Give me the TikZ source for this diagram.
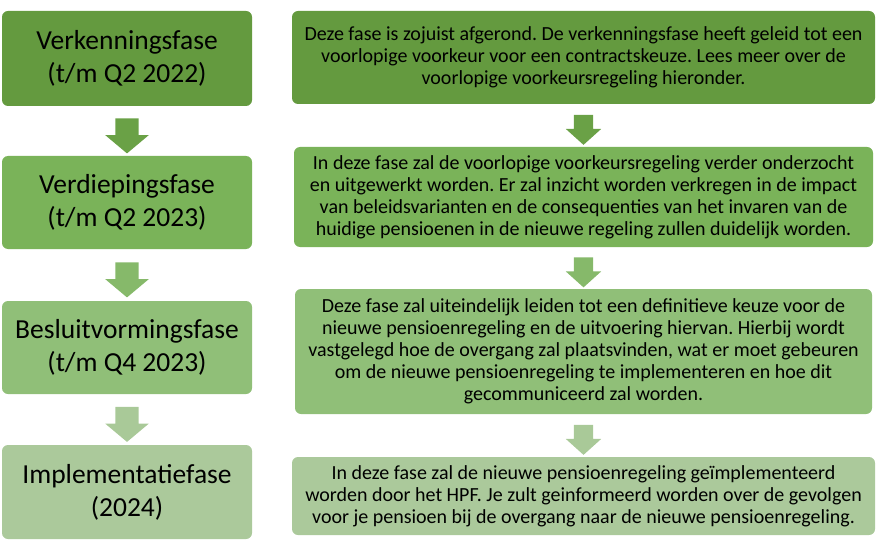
\documentclass[tikz,border=0pt]{standalone}
\usepackage{fontspec}
\setmainfont{Carlito}
\usetikzlibrary{shapes.arrows,calc}
\definecolor{fase1}{RGB}{100,154,63}
\definecolor{fase2}{RGB}{122,179,89}
\definecolor{fase3}{RGB}{144,191,120}
\definecolor{fase4}{RGB}{171,201,155}
\definecolor{pijl1}{RGB}{106,161,70}
\definecolor{pijl2}{RGB}{134,185,106}
\definecolor{pijl3}{RGB}{169,201,152}
\tikzset{
  fase/.style={rounded corners=6pt, inner sep=0pt, minimum width=250pt, align=center, font=\fontsize{27.5}{33}\selectfont},
  uitleg/.style={rounded corners=6pt, inner sep=0pt, align=center, font=\fontsize{20}{22}\selectfont},
  pijl/.style={single arrow, shape border rotate=270, inner sep=11.5pt, single arrow head extend=10pt, single arrow tip angle=100, minimum height=35pt},
  kleinpijl/.style={pijl, inner sep=9.5pt, single arrow head extend=8pt, single arrow tip angle=96, minimum height=30pt}
}
\frenchspacing
\begin{document}
\begin{tikzpicture}[x=1pt,y=-1pt]
  \useasboundingbox (0,0) rectangle (882,545);
  \node[fase, fill=fase1, minimum height=95pt] (l1) at (127,58.5) {Verkenningsfase\\(t/m Q2 2022)};
  \node[fase, fill=fase2, minimum height=93pt] (l2) at (127,202.5) {Verdiepingsfase\\(t/m Q2 2023)};
  \node[fase, fill=fase3, minimum height=93pt] (l3) at (127,347.5) {Besluitvormingsfase\\(t/m Q4 2023)};
  \node[fase, fill=fase4, minimum height=94pt] (l4) at (127,492) {Implementatiefase\\(2024)};
  \node[uitleg, fill=fase1, minimum width=583pt, minimum height=93pt] (r1) at (583.5,57.5)
    {Deze fase is zojuist afgerond. De verkenningsfase heeft geleid tot een\\voorlopige voorkeur voor een contractskeuze. Lees meer over de\\voorlopige voorkeursregeling hieronder.};
  \node[uitleg, fill=fase2, minimum width=579pt, minimum height=100pt] (r2) at (583.5,197)
    {In deze fase zal de voorlopige voorkeursregeling verder onderzocht\\en uitgewerkt worden. Er zal inzicht worden verkregen in de impact\\van beleidsvarianten en de consequenties van het invaren van de\\huidige pensioenen in de nieuwe regeling zullen duidelijk worden.};
  \node[uitleg, fill=fase3, minimum width=577pt, minimum height=125pt] (r3) at (583.5,351.5)
    {Deze fase zal uiteindelijk leiden tot een definitieve keuze voor de\\nieuwe pensioenregeling en de uitvoering hiervan. Hierbij wordt\\vastgelegd hoe de overgang zal plaatsvinden, wat er moet gebeuren\\om de nieuwe pensioenregeling te implementeren en hoe dit\\gecommuniceerd zal worden.};
  \node[uitleg, fill=fase4, minimum width=583pt, minimum height=78pt] (r4) at (583.5,496)
    {In deze fase zal de nieuwe pensioenregeling geïmplementeerd\\worden door het HPF. Je zult geinformeerd worden over de gevolgen\\voor je pensioen bij de overgang naar de nieuwe pensioenregeling.};
  \foreach \a/\b/\c in {1/2/pijl1, 2/3/pijl2, 3/4/pijl3} {
    \node[pijl, fill=\c] (pl\a) at ($(l\a.south)!0.5!(l\b.north)$) {};
    \node[kleinpijl, fill=\c] (pr\a) at ($(r\a.south)!0.5!(r\b.north)$) {};
  }
\end{tikzpicture}
\end{document}
